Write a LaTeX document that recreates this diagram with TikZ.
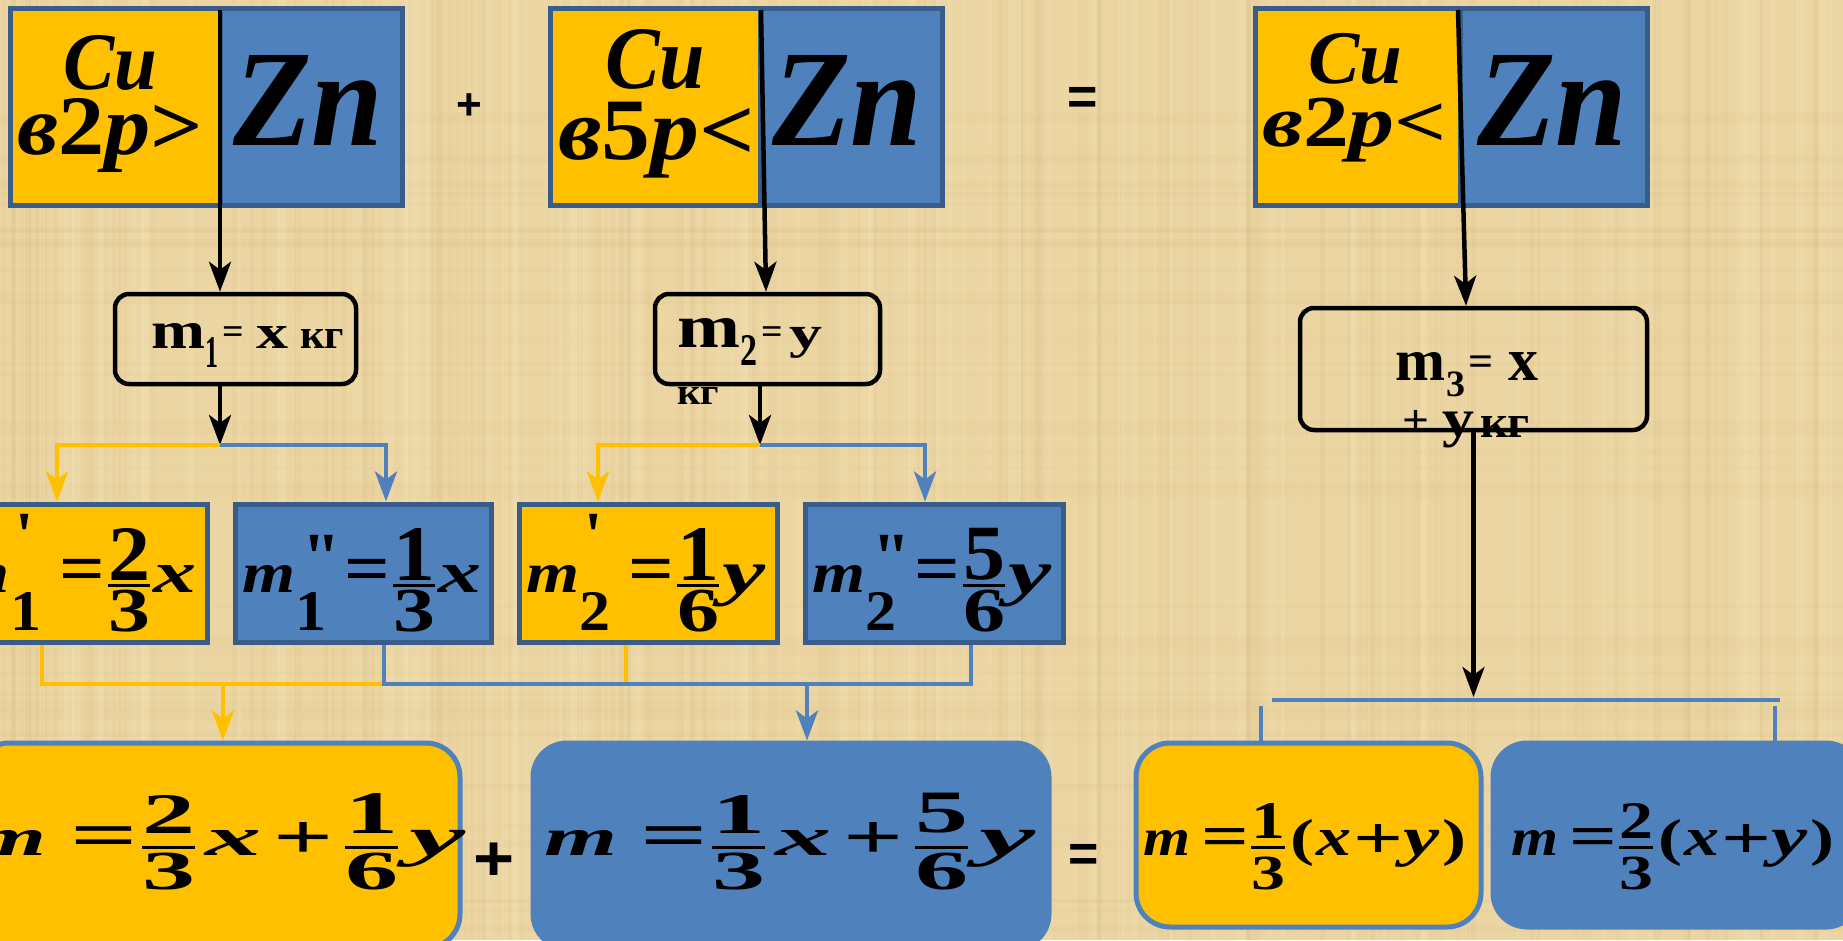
\documentclass[tikz,border=0pt]{standalone}
\usepackage{fontspec}
\usepackage{graphicx}
\usetikzlibrary{arrows.meta}
\newfontfamily\tnr{Liberation Serif}
\newfontfamily\tnrq{Liberation Serif}[Ligatures=TeXOff]
\newfontfamily\ars{Liberation Sans}
\newcommand\BI{\tnr\bfseries\itshape}
\newcommand\BU{\tnr\bfseries\upshape}
\definecolor{bg}{RGB}{235,213,162}
\definecolor{bgd}{RGB}{200,165,100}
\definecolor{bgl}{RGB}{248,234,195}
\definecolor{yel}{RGB}{255,192,0}
\definecolor{blu}{RGB}{79,129,189}
\definecolor{bord}{RGB}{56,93,138}
% glyph group placed by its ink box: name, left, bottom, width, height, text
\newcommand\G[6]{\node[gly,anchor=south west] (#1) at ({#2},{#3}) {\resizebox*{#4pt}{#5pt}{\raisebox{\depth}{#6}}};}
% equals sign: name, left, centre y, size, xscale, centre ratio, font
\newcommand\EQ[7]{\node[gly,anchor=base west] (#1) at ({#2},{#3+#6*#4}) {#7\fontsize{#4}{#4}\selectfont\scalebox{#5}[1]{=}};}
% sans symbol: name, cx, cy, size, xscale, char
\newcommand\SY[6]{\node[gly,anchor=base] (#1) at ({#2},{#3+0.35*#4}) {\ars\bfseries\fontsize{#4}{#4}\selectfont\scalebox{#5}[1]{#6}};}
% box: name, x1, y1, x2, y2, style
\newcommand\BX[6]{\node[#6, minimum width={(#4-#2)*1pt}, minimum height={(#5-#3)*1pt}] (#1) at ({(#2+#4)/2},{(#3+#5)/2}) {};}
% middle-row formula: prefix, shift, primes(1/2), sub, num, den
\newcommand\MF[6]{%
 \G{#1m}{242+(#2)}{592}{53}{27}{\BI m}
 \ifnum#3=1
  \node[gly,anchor=base west] (#1p) at ({300+(#2)},557) {\tnrq\bfseries\fontsize{66}{66}\selectfont '};
 \else
  \node[gly,anchor=base west] (#1p) at ({302+(#2)},580) {\tnrq\bfseries\fontsize{69}{69}\selectfont "};
 \fi
 \G{#1s}{295+(#2)}{630}{31}{38}{\BU #4}
 \EQ{#1e}{344+(#2)}{573.5}{71}{1.13}{0.27}{\BU}
 \G{#1n}{393+(#2)}{580}{42}{52}{\BU #5}
 \fill ({393+(#2)},584) rectangle ({435+(#2)},587);
 \G{#1d}{393+(#2)}{632}{42}{42}{\BU #6}}
% bottom big formula: prefix, shift, n1, d1, n2, d2
\newcommand\BF[6]{%
 \G{#1m}{544+(#2)}{855}{73}{25}{\BI m}
 \EQ{#1e}{640+(#2)}{840}{66}{1.8}{0.27}{\BU}
 \G{#1a}{712+(#2)}{833}{53}{38}{\BU #3}
 \fill ({712+(#2)},845.5) rectangle ({765+(#2)},848.5);
 \G{#1b}{712+(#2)}{890}{53}{37}{\BU #4}
 \G{#1x}{775+(#2)}{855}{56}{25}{\BI x}
 \G{#1p}{843+(#2)}{858}{60}{36}{\BU +}
 \G{#1c}{915+(#2)}{833}{53}{40}{\BU #5}
 \fill ({915+(#2)},845.5) rectangle ({968+(#2)},848.5);
 \G{#1d}{915+(#2)}{890}{53}{37}{\BU #6}
 \G{#1y}{979+(#2)}{867}{56}{37}{\BI y}}
% bottom right formula: prefix, shift, num, den
\newcommand\RF[4]{%
 \G{#1m}{1143+(#2)}{855}{47}{25}{\BI m}
 \EQ{#1e}{1201+(#2)}{840.5}{60}{1.4}{0.27}{\BU}
 \G{#1n}{1251+(#2)}{838}{34}{35}{\BU #3}
 \fill ({1251+(#2)},846) rectangle ({1285+(#2)},849);
 \G{#1d}{1251+(#2)}{890}{34}{33}{\BU #4}
 \G{#1l}{1290+(#2)}{867}{24}{47}{\BU (}
 \G{#1x}{1316+(#2)}{855}{35}{25}{\BI x}
 \G{#1p}{1353+(#2)}{858}{50}{34}{\BU +}
 \G{#1y}{1403+(#2)}{867}{36}{37}{\BI y}
 \G{#1r}{1442+(#2)}{867}{24}{47}{\BU )}}
\begin{document}
\begin{tikzpicture}[x=1pt,y=-1pt,
  gly/.style={inner sep=0pt,outer sep=0pt},
  topy/.style={fill=yel,draw=bord,line width=5pt,inner sep=0pt},
  topb/.style={fill=blu,draw=bord,line width=5pt,inner sep=0pt},
  mbox/.style={draw=black,line width=4.5pt,rounded corners=14pt,inner sep=0pt},
  bigy/.style={fill=yel,draw=blu,line width=5pt,rounded corners=34pt,inner sep=0pt},
  bigb/.style={fill=blu,draw=blu,line width=5pt,rounded corners=34pt,inner sep=0pt},
  tip/.style={-{Stealth[length=30pt,width=22pt,inset=8pt]}},
  arrB/.style={draw=black,line width=4.5pt,tip},
  arrY/.style={draw=yel,line width=4.5pt,tip},
  arrBl/.style={draw=blu,line width=4.5pt,tip},
  lnY/.style={draw=yel,line width=4.5pt},
  lnB/.style={draw=blu,line width=4.5pt}]
\useasboundingbox (0,0) rectangle (1843,940);
\clip (0,0) rectangle (1843,940);
\fill[bg] (0,0) rectangle (1843,940);
% papyrus texture (faint fibres)
\pgfmathsetseed{11}
\foreach \i in {1,...,220}{
  \pgfmathsetmacro\xx{rnd*1843}\pgfmathsetmacro\ww{1+rnd*5}\pgfmathsetmacro\op{0.03+0.06*rnd}
  \fill[bgd,opacity=\op] (\xx,0) rectangle ++(\ww,940);}
\foreach \i in {1,...,120}{
  \pgfmathsetmacro\xx{rnd*1843}\pgfmathsetmacro\ww{2+rnd*8}\pgfmathsetmacro\op{0.08+0.15*rnd}
  \fill[bgl,opacity=\op] (\xx,0) rectangle ++(\ww,940);}
\foreach \i in {1,...,50}{
  \pgfmathsetmacro\yy{rnd*940}\pgfmathsetmacro\hh{2+rnd*6}\pgfmathsetmacro\op{0.02+0.04*rnd}
  \fill[bgd,opacity=\op] (0,\yy) rectangle ++(1843,\hh);}
% top boxes
\BX{t1y}{10}{8}{220}{205}{topy}
\BX{t1b}{220}{8}{402}{205}{topb}
\BX{t2y}{550}{8}{760}{205}{topy}
\BX{t2b}{760}{8}{942}{205}{topb}
\BX{t3y}{1255}{8}{1460}{205}{topy}
\BX{t3b}{1460}{8}{1647}{205}{topb}
% mass boxes
\BX{m1}{115}{294}{356}{384}{mbox}
\BX{m2}{655}{294}{880}{384}{mbox}
\BX{m3}{1300}{308}{1647}{430}{mbox}
% middle boxes
\BX{ma}{-50}{504}{207}{642}{topy}
\BX{mb}{235}{504}{491}{642}{topb}
\BX{mc}{519}{504}{777}{642}{topy}
\BX{md}{805}{504}{1063}{642}{topb}
% bottom boxes
\BX{BY}{-25}{743}{460}{948}{bigy}
\BX{BB}{533}{743}{1049}{948}{bigb}
\BX{RY}{1136}{743}{1481}{927}{bigy}
\BX{RB}{1493}{743}{1860}{927}{bigb}
% top texts
\G{cu1}{63}{90}{94}{55}{\BI Cu}
\G{rt1}{17}{173}{186}{74}{{\BI в}{\BU 2}{\BI р}{\BU >}}
\G{zn1}{233}{145}{150}{90}{\BI Zn}
\G{cu2}{605}{90}{100}{60}{\BI Cu}
\G{rt2}{558}{178}{197}{76}{{\BI в}{\BU 5}{\BI р}{\BU <}}
\G{zn2}{772}{145}{150}{90}{\BI Zn}
\G{cu3}{1308}{84}{94}{51}{\BI Cu}
\G{rt3}{1262}{162}{185}{64}{{\BI в}{\BU 2}{\BI р}{\BU <}}
\G{zn3}{1477}{145}{150}{90}{\BI Zn}
\SY{plus1}{469}{104}{44}{1}{+}
\SY{eq1}{1083}{96}{52}{1}{=}
% mass texts
\G{m1m}{151}{348}{54}{25}{\BU m}
\G{m1s}{205}{367}{13}{30}{\BU 1}
\EQ{m1e}{222}{334}{36}{1.05}{0.27}{\BU}
\G{m1x}{256}{348}{32}{22}{\BU x}
\G{m1k}{300}{348}{44}{19}{\BU кг}
\G{m2m}{677}{347}{63}{29}{\BU m}
\G{m2s}{740}{365}{17}{30}{\BU 2}
\EQ{m2e}{761}{334}{36}{1.05}{0.27}{\BU}
\G{m2y}{789}{358}{33}{31}{\BU y}
\G{m2k}{677}{404}{42}{17}{\BU кг}
\G{m3m}{1395}{380}{50}{28}{\BU m}
\G{m3s}{1446}{397}{19}{25}{\BU 3}
\EQ{m3e}{1468}{364}{42}{1.05}{0.27}{\BU}
\G{m3x}{1508}{380}{30}{28}{\BU x}
\G{m3p}{1402}{434}{27}{24}{\BU +}
\G{m3y}{1442}{448}{32}{36}{\BU y}
\G{m3k}{1480}{437}{50}{21}{\BU кг}
% middle formulas
\MF{fa}{-285}{1}{1}{2}{3}
\G{fax}{438-285}{592}{43}{27}{\BI x}
\MF{fb}{0}{2}{1}{1}{3}
\G{fbx}{438}{592}{43}{27}{\BI x}
\MF{fc}{284}{1}{2}{1}{6}
\G{fcy}{438+284}{607}{43}{42}{\BI y}
\MF{fd}{570}{2}{2}{5}{6}
\G{fdy}{438+570}{607}{43}{42}{\BI y}
% bottom formulas
\BF{ba}{-570}{2}{3}{1}{6}
\BF{bb}{0}{1}{3}{5}{6}
\RF{ra}{0}{1}{3}
\RF{rb}{368}{2}{3}
\SY{plus2}{494}{858}{64}{1.1}{+}
\SY{eq2}{1084}{853}{52}{1}{=}
% connectors
\coordinate (a1s) at (220,10);
\coordinate (a2s) at (761,10);
\coordinate (a3s) at (1458,10);
\draw[arrB] (a1s) -- (a1s |- m1.north);
\draw[arrB] (a2s) -- ([xshift=-1.5pt]m2.north);
\draw[arrB] (a3s) -- ([xshift=-7.5pt]m3.north);
\coordinate (j1) at (220,445);
\coordinate (j2) at (760,445);
\draw[arrB] (j1 |- m1.south) -- (j1);
\draw[arrB] (j2 |- m2.south) -- (j2);
\draw[arrY] (j1) -| ([xshift=-21.5pt]ma.north);
\draw[arrBl] (j1) -| ([xshift=23pt]mb.north);
\draw[arrY] (j2) -| ([xshift=-50pt]mc.north);
\draw[arrBl] (j2) -| ([xshift=-9pt]md.north);
\coordinate (hy) at (384,684);
\coordinate (ya1) at ([xshift=-36.5pt]ma.south);
\coordinate (ya2) at ([xshift=-22pt]mc.south);
\coordinate (bb1) at ([xshift=21pt]mb.south);
\coordinate (bd1) at ([xshift=37pt]md.south);
\draw[lnY] (ya1) |- (hy);
\draw[lnY] (ya2) -- (ya2 |- hy);
\draw[lnB] (bb1) -- (bb1 |- hy) -- (bd1 |- hy) -- (bd1);
\coordinate (ya) at (223,684);
\coordinate (ba) at (807,684);
\draw[arrY] (ya) -- (ya |- BY.north);
\draw[arrBl] (ba) -- (ba |- BB.north);
\coordinate (r1) at (1473.5,697);
\draw[arrB] (m3.south) -- (r1);
\coordinate (hl) at (1272,700);
\coordinate (hr) at (1780,700);
\draw[lnB] (hl) -- (hr);
\coordinate (vl) at (1261,706);
\coordinate (vr) at (1775,706);
\draw[lnB] (vl) -- (vl |- RY.north);
\draw[lnB] (vr) -- (vr |- RB.north);
\end{tikzpicture}
\end{document}
